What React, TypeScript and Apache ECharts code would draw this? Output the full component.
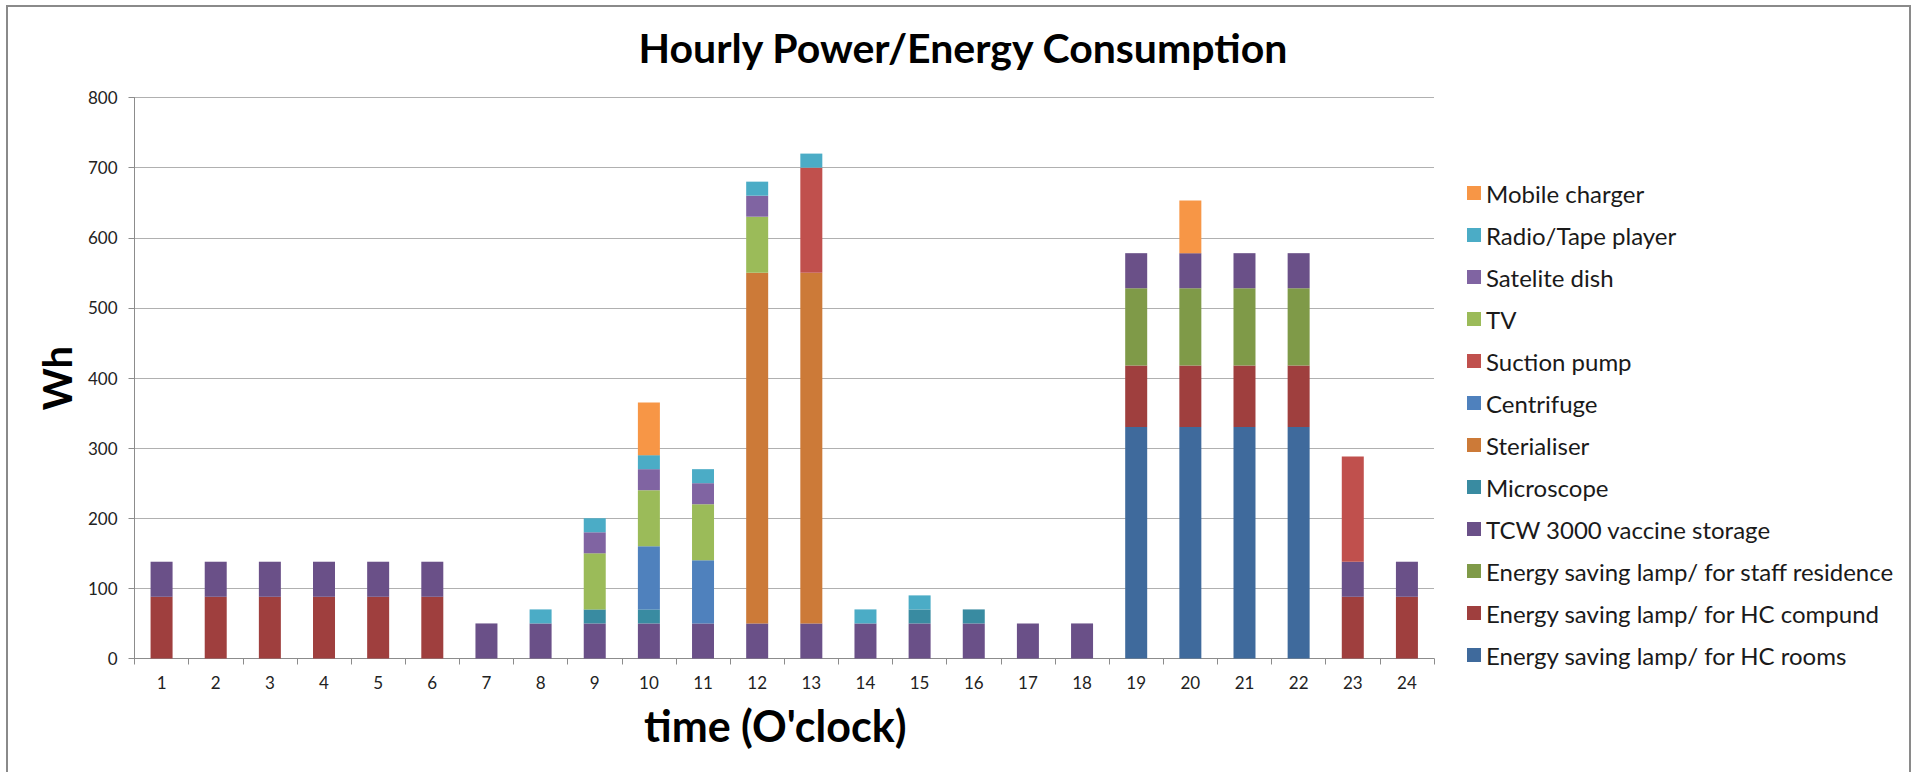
import React, { useEffect, useRef } from "react";
import * as echarts from "echarts";

const hours = ["1","2","3","4","5","6","7","8","9","10","11","12","13","14","15","16","17","18","19","20","21","22","23","24"];

// bottom-to-top stacking order
const hcRooms =        [0,0,0,0,0,0,0,0,0,0,0,0,0,0,0,0,0,0,330,330,330,330,0,0];
const hcCompound =     [88,88,88,88,88,88,0,0,0,0,0,0,0,0,0,0,0,0,88,88,88,88,88,88];
const staffResidence = [0,0,0,0,0,0,0,0,0,0,0,0,0,0,0,0,0,0,110,110,110,110,0,0];
const tcwStorage =     [50,50,50,50,50,50,50,50,50,50,50,50,50,50,50,50,50,50,50,50,50,50,50,50];
const microscope =     [0,0,0,0,0,0,0,0,20,20,0,0,0,0,20,20,0,0,0,0,0,0,0,0];
const sterilizer =     [0,0,0,0,0,0,0,0,0,0,0,500,500,0,0,0,0,0,0,0,0,0,0,0];
const centrifuge =     [0,0,0,0,0,0,0,0,0,90,90,0,0,0,0,0,0,0,0,0,0,0,0,0];
const suctionPump =    [0,0,0,0,0,0,0,0,0,0,0,0,150,0,0,0,0,0,0,0,0,0,150,0];
const tv =             [0,0,0,0,0,0,0,0,80,80,80,80,0,0,0,0,0,0,0,0,0,0,0,0];
const satelliteDish =  [0,0,0,0,0,0,0,0,30,30,30,30,0,0,0,0,0,0,0,0,0,0,0,0];
const radio =          [0,0,0,0,0,0,0,20,20,20,20,20,20,20,20,0,0,0,0,0,0,0,0,0];
const mobileCharger =  [0,0,0,0,0,0,0,0,0,75,0,0,0,0,0,0,0,0,0,75,0,0,0,0];

const seriesNames = [
  "Energy saving lamp/ for HC rooms",
  "Energy saving lamp/ for HC compund",
  "Energy saving lamp/ for staff residence",
  "TCW 3000 vaccine storage",
  "Microscope",
  "Sterialiser",
  "Centrifuge",
  "Suction pump",
  "TV",
  "Satelite dish",
  "Radio/Tape player",
  "Mobile charger",
];
const seriesData = [hcRooms, hcCompound, staffResidence, tcwStorage, microscope, sterilizer, centrifuge, suctionPump, tv, satelliteDish, radio, mobileCharger];
const seriesColors = ["#3F6A9C", "#9F3F3E", "#7F9A48", "#6A5088", "#398BA1", "#CC7A38", "#4F81BD", "#C0504D", "#9BBB59", "#8064A2", "#4BACC6", "#F79646"];

const FONT = "Lato, 'Open Sans', sans-serif";

export default function App() {
  const ref = useRef<HTMLDivElement>(null);
  useEffect(() => {
    if (!ref.current) return;
    const chart = echarts.init(ref.current, undefined, { renderer: "svg" });
    chart.setOption({
      animation: false,
      backgroundColor: "#ffffff",
      textStyle: { fontFamily: FONT },
      title: {
        text: "Hourly Power/Energy Consumption",
        left: 958,
        top: 22,
        textAlign: "center",
        textStyle: { fontFamily: FONT, fontWeight: "bold", fontSize: 41, color: "#000" },
      },
      graphic: [
        {
          type: "rect",
          shape: { x: 7, y: 6, width: 1903, height: 820 },
          style: { fill: "none", stroke: "#8a8a8a", lineWidth: 2 },
          silent: true,
          z: -1,
        },
      ],
      legend: {
        orient: "vertical",
        left: 1467,
        top: 181,
        padding: 0,
        itemWidth: 14,
        itemHeight: 14,
        itemGap: 18,
        icon: "rect",
        data: [...seriesNames].reverse(),
        textStyle: { fontFamily: FONT, fontSize: 24, color: "#1a1a1a", lineHeight: 24 },
        selectedMode: false,
      },
      grid: { left: 134.5, right: 485, top: 97.5, bottom: 113.5, containLabel: false },
      xAxis: {
        type: "category",
        data: hours,
        name: "time (O'clock)",
        nameLocation: "middle",
        nameGap: 45,
        nameTextStyle: { fontFamily: FONT, fontWeight: "bold", fontSize: 43, color: "#000", padding: [0, 18, 0, 0] },
        axisLine: { lineStyle: { color: "#8c8c8c", width: 1 } },
        axisTick: { show: true, length: 6, inside: false, lineStyle: { color: "#8c8c8c" } },
        axisLabel: { fontFamily: FONT, fontSize: 17, color: "#222", margin: 15 },
      },
      yAxis: {
        type: "value",
        min: 0,
        max: 800,
        interval: 100,
        name: "Wh",
        nameLocation: "middle",
        nameGap: 58,
        nameTextStyle: { fontFamily: FONT, fontWeight: "bold", fontSize: 40, color: "#000" },
        axisLine: { show: true, lineStyle: { color: "#8c8c8c", width: 1 } },
        axisTick: { show: true, length: 6, inside: false, lineStyle: { color: "#8c8c8c" } },
        axisLabel: { fontFamily: FONT, fontSize: 17, color: "#222", margin: 17 },
        splitLine: { show: true, lineStyle: { color: "#b0b0b0", width: 1 } },
      },
      series: seriesNames.map((name, i) => ({
        name,
        type: "bar",
        stack: "total",
        barWidth: 22,
        data: seriesData[i],
        itemStyle: { color: seriesColors[i] },
        emphasis: { disabled: true },
      })),
    });
    return () => chart.dispose();
  }, []);
  return (
    <div
      ref={ref}
      style={{ position: "fixed", left: 0, top: 0, width: 1919, height: 772 }}
    />
  );
}
